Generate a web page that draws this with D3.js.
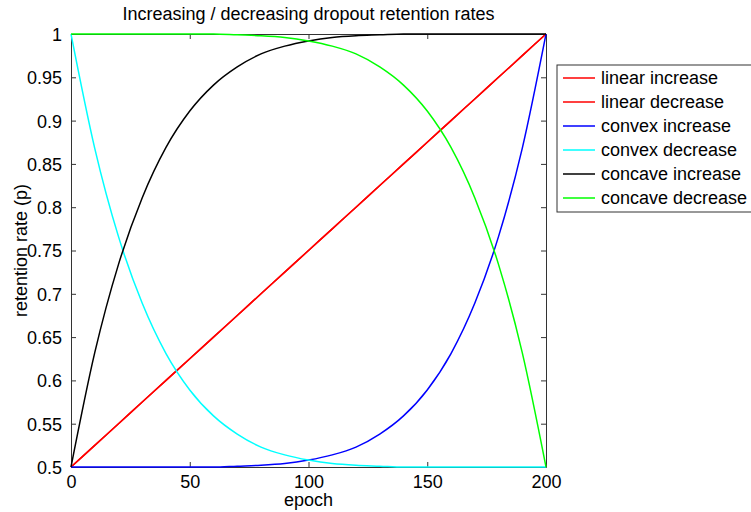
<!DOCTYPE html>
<html>
<head>
<meta charset="utf-8">
<script src="https://cdn.jsdelivr.net/npm/d3@7"></script>
<style>
body{margin:0;background:#fff;}
svg text{font-family:"Liberation Sans",Arial,sans-serif;fill:#000;}
</style>
</head>
<body>
<div id="chart"></div>
<script>
//values, every 10 epochs
var epochs = [0,10,20,30,40,50,60,70,80,90,100,110,120,130,140,150,160,170,180,190,200];
var linearIncrease = [0.5,0.525,0.55,0.575,0.6,0.625,0.65,0.675,0.7,0.725,0.75,0.775,0.8,0.825,0.85,0.875,0.9,0.925,0.95,0.975,1];
var linearDecrease = [0.5,0.525,0.55,0.575,0.6,0.625,0.65,0.675,0.7,0.725,0.75,0.775,0.8,0.825,0.85,0.875,0.9,0.925,0.95,0.975,1]; //only one red line shows in the original
var convexIncrease = [0.5,0.5,0.5,0.5,0.5,0.5,0.5,0.5,0.5,0.501,0.502,0.504,0.508,0.514,0.523,0.538,0.559,0.589,0.631,0.689,0.766,0.868,1].slice(2);
var convexDecrease = [1,0.868,0.766,0.689,0.631,0.589,0.559,0.538,0.523,0.514,0.508,0.504,0.502,0.501,0.5,0.5,0.5,0.5,0.5,0.5,0.5];
var concaveIncrease = [0.5,0.632,0.734,0.811,0.869,0.911,0.941,0.962,0.977,0.986,0.992,0.996,0.998,0.999,1,1,1,1,1,1,1];
var concaveDecrease = [1,1,1,1,1,1,1,0.999,0.998,0.996,0.992,0.986,0.977,0.962,0.941,0.911,0.869,0.811,0.734,0.632,0.5];

var seriesNames = ["linear increase","linear decrease","convex increase","convex decrease","concave increase","concave decrease"];
var seriesCols = ["#ff0000","#ff0000","#0000ff","#00ffff","#000000","#00ff00"];
var seriesVals = [linearIncrease, linearDecrease, convexIncrease, convexDecrease, concaveIncrease, concaveDecrease];

var xTicks = [0,50,100,150,200];
var yTicks = [0.5,0.55,0.6,0.65,0.7,0.75,0.8,0.85,0.9,0.95,1];

var W = 751, H = 512;
var plot = {left:71, right:546, top:34, bottom:467};
var fontSize = "18px";

var svg = d3.select("#chart").append("svg").attr("width",W).attr("height",H);

var x = d3.scaleLinear().domain([0,200]).range([plot.left, plot.right]);
var y = d3.scaleLinear().domain([0.5,1]).range([plot.bottom, plot.top]);

var axisCol = "#333333";
var fmt = function(d){return String(+d.toFixed(2))};

//axes with inward ticks on all four sides (matlab box)
var gx = svg.append("g").attr("transform","translate(0,"+plot.bottom+")")
	.call(d3.axisBottom(x).tickValues(xTicks).tickSizeInner(-5).tickSizeOuter(0).tickPadding(8).tickFormat(fmt));
var gxt = svg.append("g").attr("transform","translate(0,"+plot.top+")")
	.call(d3.axisTop(x).tickValues(xTicks).tickSizeInner(-5).tickSizeOuter(0).tickFormat(""));
var gy = svg.append("g").attr("transform","translate("+plot.left+",0)")
	.call(d3.axisLeft(y).tickValues(yTicks).tickSizeInner(-5).tickSizeOuter(0).tickPadding(9).tickFormat(fmt));
var gyr = svg.append("g").attr("transform","translate("+plot.right+",0)")
	.call(d3.axisRight(y).tickValues(yTicks).tickSizeInner(-5).tickSizeOuter(0).tickFormat(""));

[gx,gxt,gy,gyr].forEach(function(g){
	g.selectAll("path.domain").attr("stroke",axisCol).attr("stroke-width",1);
	g.selectAll(".tick line").attr("stroke",axisCol);
	g.selectAll(".tick text").style("font-size",fontSize).attr("fill","#000");
});
gx.selectAll(".tick text").attr("dy","0.71em");
gy.selectAll(".tick text").attr("dy","0.36em");

//curves
var line = d3.line()
	.x(function(d){return x(d[0])})
	.y(function(d){return y(d[1])})
	.curve(d3.curveMonotoneX);

svg.append("g").selectAll("path.series").data(seriesVals).enter().append("path")
	.classed("series",true)
	.attr("fill","none")
	.attr("stroke",function(d,i){return seriesCols[i]})
	.attr("stroke-width",1.5)
	.attr("d",function(d){return line(epochs.map(function(e,i){return [e,d[i]]}))});

//titles
svg.append("text").attr("x",(plot.left+plot.right)/2).attr("y",20).attr("text-anchor","middle")
	.style("font-size",fontSize).text("Increasing / decreasing dropout retention rates");
svg.append("text").attr("x",(plot.left+plot.right)/2).attr("y",506).attr("text-anchor","middle")
	.style("font-size",fontSize).text("epoch");
svg.append("text").attr("transform","translate(27,"+((plot.top+plot.bottom)/2)+") rotate(-90)")
	.attr("text-anchor","middle").style("font-size",fontSize).text("retention rate (p)");

//legend
var legend = svg.append("g").attr("transform","translate(557,65)");
legend.append("rect").attr("x",0).attr("y",0).attr("width",200).attr("height",147)
	.attr("fill","#fff").attr("stroke",axisCol).attr("stroke-width",1);
var items = legend.selectAll("g.item").data(seriesNames).enter().append("g").classed("item",true)
	.attr("transform",function(d,i){return "translate(0,"+(13+i*24)+")"});
items.append("line").attr("x1",6).attr("x2",38).attr("y1",0).attr("y2",0)
	.attr("stroke",function(d,i){return seriesCols[i]}).attr("stroke-width",1.5);
items.append("text").attr("x",44).attr("y",0).attr("dy","0.35em").style("font-size",fontSize).text(function(d){return d});
</script>
</body>
</html>
